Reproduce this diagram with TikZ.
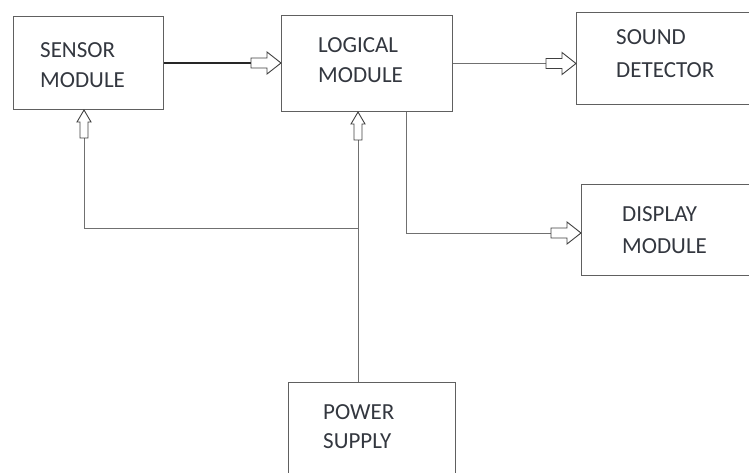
\documentclass[tikz,border=0pt]{standalone}
\usepackage{fontspec}
\setmainfont{Carlito}
\definecolor{boxc}{HTML}{606060}
\definecolor{linec}{HTML}{707070}
\definecolor{textc}{HTML}{33373F}
\definecolor{arrc}{HTML}{404040}
\begin{document}
\begin{tikzpicture}[x=1pt,y=-1pt,
  box/.style={draw=boxc, line width=1pt, rectangle, inner sep=0pt, anchor=north west},
  lbl/.style={font=\fontsize{23}{27}\selectfont, text=textc, inner sep=0pt, anchor=base west},
  wire/.style={draw=linec, line width=1pt},
  strong/.style={draw=black!85, line width=1.1pt},
  harrow/.pic={\draw[draw=arrc, line width=0.9pt, fill=white, line join=miter]
     (0,0) -- (-14,-11) -- (-14,-5) -- (-30,-5) -- (-30,5) -- (-14,5) -- (-14,11) -- cycle;},
  varrow/.pic={\draw[draw=arrc, line width=0.9pt, fill=white, line join=miter]
     (0,0) -- (-12,-7) -- (-12,-4) -- (-28,-4) -- (-28,4) -- (-12,4) -- (-12,7) -- cycle;}]
\useasboundingbox (0,0) rectangle (749,473);
\clip (0,0) rectangle (749,473);
% boxes
\node[box, minimum width=150pt, minimum height=93pt] (sensor) at (13,16) {};
\node[box, minimum width=171pt, minimum height=96pt] (logic) at (281,15) {};
\node[box, minimum width=200pt, minimum height=92pt] (sound) at (576,12) {};
\node[box, minimum width=200pt, minimum height=91pt] (display) at (581,184) {};
\node[box, minimum width=167pt, minimum height=120pt] (power) at (288,382) {};
% labels
\node[lbl] (s1) at (40,58) {SENSOR};
\node[lbl] (s2) at (40,88) {MODULE};
\node[lbl] (l1) at (318,53) {LOGICAL};
\node[lbl] (l2) at (318,83) {MODULE};
\node[lbl] (d1) at (616,45) {SOUND};
\node[lbl] (d2) at (616,78) {DETECTOR};
\node[lbl] (m1) at (622,222) {DISPLAY};
\node[lbl] (m2) at (622,253) {MODULE};
\node[lbl] (p1) at (323,419) {POWER};
\node[lbl] (p2) at (323,448) {SUPPLY};
% junctions
\coordinate (j1) at (358,228);
\coordinate (c1) at (84,228);
\coordinate (c2) at (406,233);
% connectors
\draw[strong] (sensor.east) -- (logic.west |- sensor.east);
\pic at (logic.west |- sensor.east) {harrow};
\draw[wire] (logic.east) -- (sound.west |- logic.east);
\pic at (sound.west |- logic.east) {harrow};
\draw[wire] (logic.south -| c2) -- (c2) -- (c2 -| display.west);
\pic at (c2 -| display.west) {harrow};
\draw[wire] (power.north -| j1) -- (j1 |- logic.south);
\pic[rotate=90] at (j1 |- logic.south) {varrow};
\draw[wire] (j1) -- (c1) -- (c1 |- sensor.south);
\pic[rotate=90] at (c1 |- sensor.south) {varrow};
\end{tikzpicture}
\end{document}
